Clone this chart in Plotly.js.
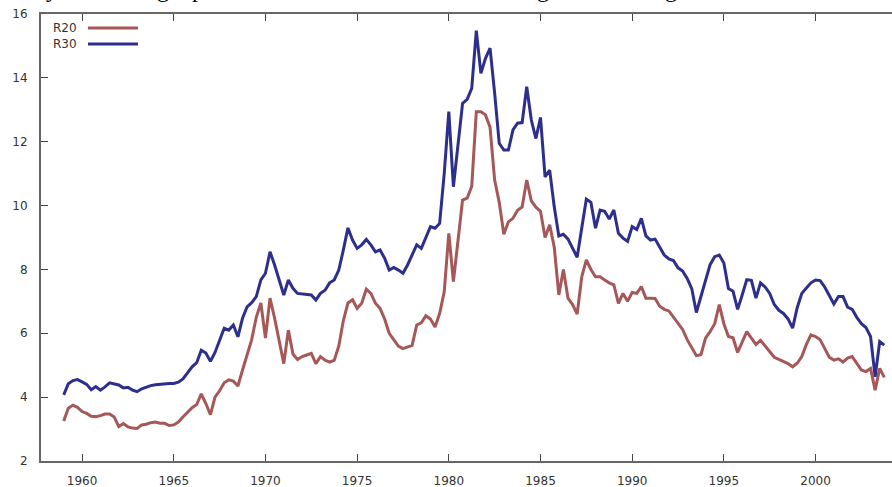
<!DOCTYPE html>
<html><head><meta charset="utf-8">
<script src="https://cdn.plot.ly/plotly-3.0.1.min.js"></script>
<style>html,body{margin:0;padding:0;background:#fff;overflow:hidden}#chart{width:892px;height:487px}</style>
</head><body><div id="chart"></div>
<script>
// Quarterly observations, first quarter 1959Q1
const startYear = 1959;
const r20 = [
  3.25, 3.65, 3.75, 3.68,
  3.55, 3.49, 3.40, 3.39,
  3.42, 3.47, 3.47, 3.38,
  3.08, 3.17, 3.07, 3.03,
  3.02, 3.13, 3.15, 3.20,
  3.22, 3.18, 3.18, 3.11,
  3.13, 3.22, 3.38, 3.52,
  3.67, 3.77, 4.10, 3.80,
  3.45, 4.00, 4.20, 4.45,
  4.54, 4.50, 4.35, 4.85,
  5.30, 5.80, 6.50, 6.95,
  5.85, 7.10, 6.47, 5.70,
  5.05, 6.10, 5.35, 5.18,
  5.27, 5.32, 5.37, 5.05,
  5.27, 5.16, 5.10, 5.15,
  5.60, 6.40, 6.95, 7.05,
  6.78, 6.94, 7.38, 7.25,
  6.94, 6.78, 6.45, 6.00,
  5.80, 5.60, 5.52, 5.58,
  5.62, 6.26, 6.33, 6.55,
  6.45, 6.20, 6.62, 7.30,
  9.13, 7.62, 9.00, 10.17,
  10.23, 10.60, 12.94, 12.94,
  12.84, 12.45, 10.80, 10.10,
  9.10, 9.49, 9.60, 9.85,
  9.96, 10.80, 10.15, 9.95,
  9.82, 9.00, 9.40, 8.70,
  7.20, 8.00, 7.10, 6.90,
  6.60, 7.77, 8.30, 8.00,
  7.77, 7.77, 7.67, 7.58,
  7.52, 6.94, 7.25, 7.00,
  7.28, 7.25, 7.46, 7.10,
  7.10, 7.09, 6.85, 6.75,
  6.70, 6.50, 6.30, 6.12,
  5.80, 5.55, 5.30, 5.33,
  5.85, 6.05, 6.30, 6.90,
  6.30, 5.90, 5.86, 5.40,
  5.75, 6.05, 5.85, 5.65,
  5.78, 5.60, 5.40, 5.25,
  5.18, 5.12, 5.05, 4.95,
  5.06, 5.27, 5.65, 5.95,
  5.90, 5.80, 5.50, 5.25,
  5.16, 5.20, 5.10, 5.22,
  5.27, 5.06, 4.85, 4.80,
  4.90, 4.22, 4.90, 4.62
];
const r30 = [
  4.07, 4.42, 4.52, 4.55,
  4.48, 4.40, 4.23, 4.33,
  4.22, 4.32, 4.45, 4.42,
  4.38, 4.29, 4.31, 4.22,
  4.17, 4.26, 4.32, 4.36,
  4.39, 4.41, 4.42, 4.43,
  4.43, 4.47, 4.57, 4.75,
  4.95, 5.08, 5.47, 5.38,
  5.12, 5.40, 5.75, 6.16,
  6.10, 6.26, 5.89, 6.47,
  6.83, 6.96, 7.15, 7.67,
  7.88, 8.55, 8.14, 7.67,
  7.20, 7.67, 7.41, 7.25,
  7.23, 7.23, 7.20, 7.04,
  7.25, 7.35, 7.58, 7.67,
  7.98, 8.61, 9.30, 8.92,
  8.66, 8.77, 8.94, 8.77,
  8.55, 8.61, 8.35, 7.98,
  8.06, 7.98, 7.88, 8.14,
  8.45, 8.77, 8.66, 9.03,
  9.34, 9.29, 9.44, 11.00,
  12.94, 10.59, 11.95, 13.20,
  13.33, 13.67, 15.48, 14.14,
  14.61, 14.93, 13.52, 11.95,
  11.74, 11.74, 12.37, 12.58,
  12.60, 13.72, 12.68, 12.10,
  12.76, 10.90, 11.11, 9.96,
  9.05, 9.10, 8.95, 8.65,
  8.38, 9.30, 10.20, 10.10,
  9.29, 9.86, 9.82, 9.58,
  9.86, 9.13, 8.98, 8.88,
  9.34, 9.25, 9.60, 9.05,
  8.92, 8.95, 8.70, 8.45,
  8.33, 8.28, 8.05, 7.95,
  7.72, 7.40, 6.65, 7.15,
  7.70, 8.15, 8.40, 8.45,
  8.20, 7.40, 7.32, 6.75,
  7.20, 7.68, 7.66, 7.10,
  7.58, 7.45, 7.25, 6.90,
  6.72, 6.62, 6.45, 6.16,
  6.80, 7.25, 7.42, 7.58,
  7.67, 7.65, 7.45, 7.20,
  6.92, 7.15, 7.15, 6.82,
  6.75, 6.50, 6.30, 6.18,
  5.90, 4.64, 5.74, 5.63
];
const seriesNames = ['R20', 'R30'];
const seriesColors = ['#a65757', '#2d2f8c'];
const xTickVals = [1960, 1965, 1970, 1975, 1980, 1985, 1990, 1995, 2000];
const xTickText = ['1960', '1965', '1970', '1975', '1980', '1985', '1990', '1995', '2000'];
const yTickVals = [2, 4, 6, 8, 10, 12, 14, 16];
const yTickText = ['2', '4', '6', '8', '10', '12', '14', '16'];
// fragment of the document line above the figure (only descenders visible)
const headerGlyphs = ['y', 'g', 'p', 'g', 'g'];

const time = r20.map((_, i) => startYear + i / 4);
const seriesValues = [r20, r30];

const traces = seriesNames.map((name, k) => ({
  x: time, y: seriesValues[k], name: name, type: 'scatter', mode: 'lines',
  line: {color: seriesColors[k], width: 3}, showlegend: false, hoverinfo: 'skip'
}));

const tickFont = {family: 'DejaVu Sans, sans-serif', size: 12, color: '#333'};

const annotations = [];
const shapes = [];
const legY = [0.9687, 0.9330];
seriesNames.forEach((name, k) => {
  annotations.push({xref: 'paper', yref: 'paper', x: 0.0118, y: legY[k], xanchor: 'left', yanchor: 'middle',
    text: name, showarrow: false, font: {family: 'DejaVu Sans, sans-serif', size: 12, color: '#333'}});
  shapes.push({type: 'line', xref: 'paper', yref: 'paper', x0: 0.0552, x1: 0.114, y0: legY[k], y1: legY[k],
    line: {color: seriesColors[k], width: 3}});
});
const headerX = [52, 163, 198, 543, 671];
headerGlyphs.forEach((g, i) => {
  annotations.push({xref: 'paper', yref: 'paper', x: (headerX[i] - 41) / 851, y: 1 + 10.5 / 447,
    xanchor: 'center', yanchor: 'bottom', text: g, showarrow: false,
    font: {family: 'Liberation Serif, serif', size: 24, color: '#000'}});
});

const layout = {
  width: 892, height: 487,
  margin: {l: 41, r: 0, t: 14, b: 26, pad: 0},
  paper_bgcolor: '#fff', plot_bgcolor: '#fff',
  showlegend: false,
  xaxis: {range: [1957.76, 2004.17], tickmode: 'array', tickvals: xTickVals, ticktext: xTickText,
    ticks: 'inside', ticklen: 7, tickwidth: 1, tickcolor: '#444', ticklabelstandoff: 8,
    showline: true, linecolor: '#666', linewidth: 2, mirror: 'ticks',
    showgrid: false, zeroline: false, tickfont: tickFont},
  yaxis: {range: [2, 16], tickmode: 'array', tickvals: yTickVals, ticktext: yTickText,
    ticks: 'inside', ticklen: 7, tickwidth: 1, tickcolor: '#444', ticklabelstandoff: 9,
    showline: true, linecolor: '#666', linewidth: 2, mirror: false,
    showgrid: false, zeroline: false, tickfont: tickFont},
  annotations: annotations,
  shapes: shapes
};
Plotly.newPlot('chart', traces, layout, {staticPlot: true, displayModeBar: false});
</script>
</body></html>
